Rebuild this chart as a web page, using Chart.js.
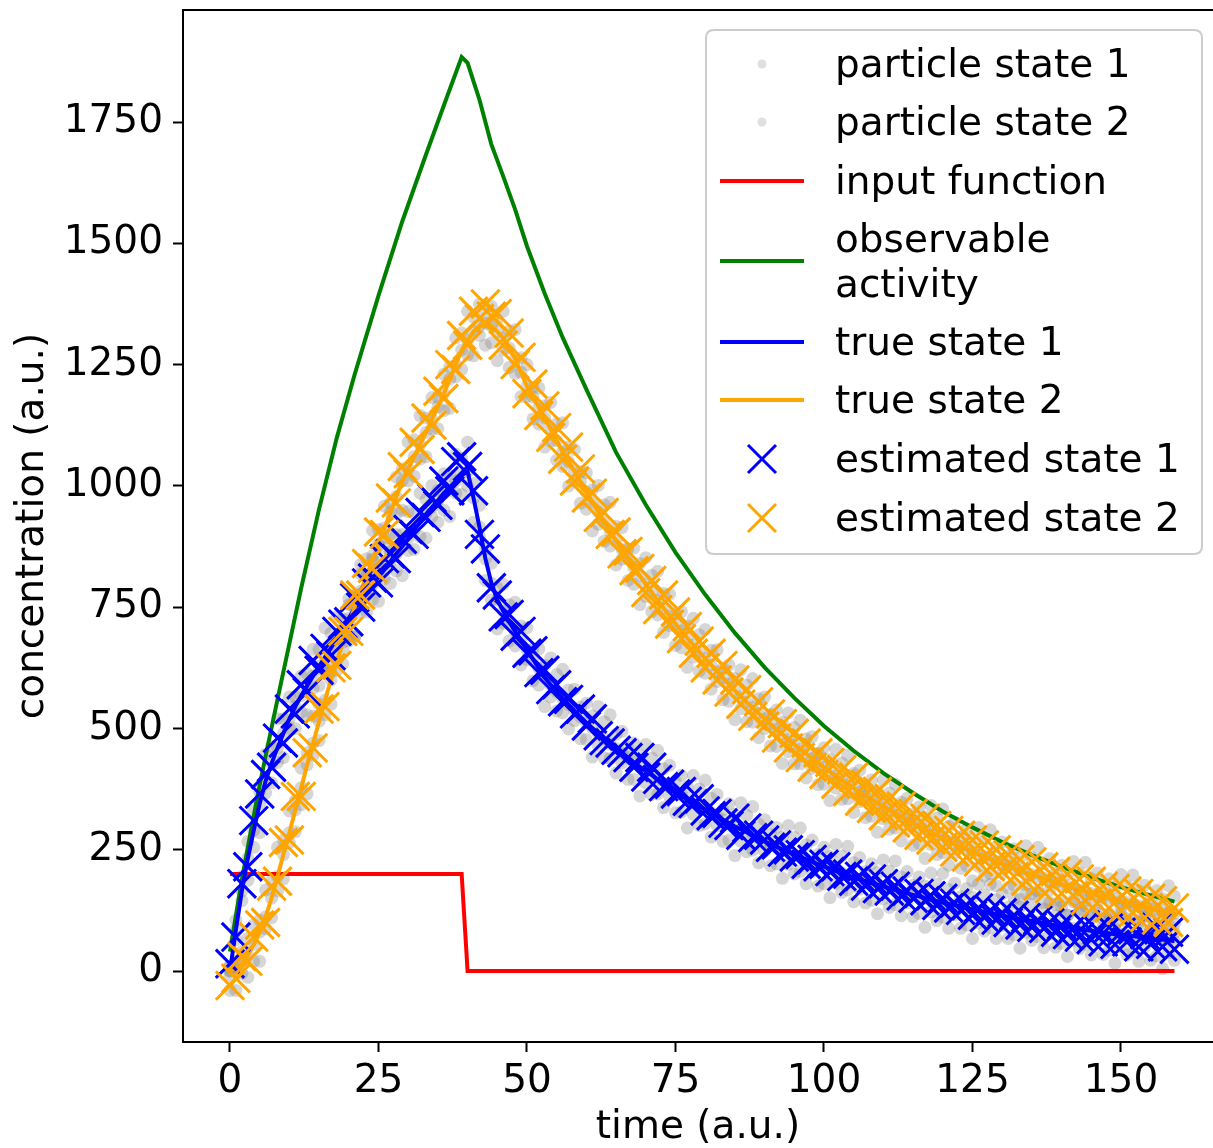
<!DOCTYPE html>
<html>
<head>
<meta charset="utf-8">
<script src="https://cdn.jsdelivr.net/npm/chart.js@4.4.1/dist/chart.umd.min.js"></script>
<style>
  html, body { margin: 0; padding: 0; background: #fff; }
  #wrap { width: 1213px; height: 1148px; }
</style>
</head>
<body>
<div id="wrap"><canvas id="myChart" width="1213" height="1148"></canvas></div>
<script>
// one value per time step (t = 0 .. 159)
const trueState1 = [
  0,85,165,232,290,345,392,428,460,490, 520,545,568,588,608,628,647,666,685,706,
  727,748,764,780,796,812,828,844,860,875, 892,909,925,942,956,970,985,997,1010,1022,
  1030,975,915,850,800,765,742,720,700,681, 662,643,624,605,590,576,562,549,536,524,
  512,501,490,479,468,458,449,440,430,421, 412,404,395,387,379,371,363,355,348,340,
  333,326,319,312,305,298,292,286,279,273, 267,262,256,251,245,240,235,230,225,220,
  215,211,206,202,197,193,189,185,181,178, 174,171,167,164,160,157,154,150,147,144,
  141,138,136,133,130,127,124,122,119,117, 114,112,110,107,105,103,101,98,96,94,
  92,90,88,86,85,83,81,79,78,76, 75,73,72,70,69,67,66,65,63,62
];
const trueState2 = [
  0,5,15,32,55,80,112,150,195,240, 285,332,378,425,470,515,558,600,640,678,
  715,750,783,815,848,880,913,945,978,1010, 1035,1060,1085,1110,1137,1163,1190,1220,1250,1280,
  1300,1318,1330,1335,1330,1318,1305,1284,1262,1234, 1205,1183,1162,1140,1117,1093,1070,1050,1030,1009,
  987,967,946,926,906,887,869,850,832,815, 797,781,764,748,732,716,701,686,672,658,
  644,631,617,604,591,578,566,554,543,531, 520,509,498,488,477,467,457,448,438,429,
  420,411,402,394,385,377,369,361,354,346, 339,332,325,318,311,304,298,292,286,280,
  274,268,262,257,252,246,241,236,231,226, 221,217,212,208,203,199,195,191,187,182,
  178,175,171,167,164,160,157,153,150,147, 144,141,138,135,132,129,126,124,121,119
];
const estState1 = [
  15,70,180,215,310,365,405,420,480,470, 540,530,590,575,640,620,665,650,700,715,
  720,770,750,800,810,800,850,860,850,890, 910,900,945,935,975,960,1010,990,1050,1060,
  1040,990,900,870,790,775,730,735,690,700, 655,660,615,620,580,590,555,560,530,540,
  505,520,485,475,470,455,450,440,420,440, 400,420,395,380,385,365,370,350,345,355,
  330,320,325,305,300,315,280,295,275,280, 270,255,260,245,250,235,240,220,230,215,
  220,205,215,195,200,185,195,175,190,170, 180,165,175,155,165,150,160,145,155,135,
  150,130,140,125,135,115,130,110,125,105, 120,100,115,95,110,90,105,88,100,80,
  95,75,90,70,95,65,85,60,90,55, 80,60,85,50,75,55,90,50,80,45
];
const estState2 = [
  -30,-15,30,20,70,95,100,175,185,265, 270,360,360,450,460,540,545,625,630,700,
  700,775,775,840,830,905,900,975,965,1040, 1025,1090,1075,1140,1125,1195,1180,1250,1240,1310,
  1290,1360,1345,1375,1350,1355,1290,1315,1250,1265, 1190,1210,1145,1165,1100,1120,1055,1080,1010,1035,
  975,985,935,945,900,905,860,865,825,830, 780,805,745,775,715,740,685,710,655,680,
  625,655,600,630,575,600,550,580,525,555, 505,530,480,510,460,490,440,470,420,450,
  405,430,385,415,370,400,350,385,335,370, 320,355,305,340,295,325,280,315,270,300,
  255,290,245,280,235,270,225,260,215,250, 205,240,195,230,185,225,175,215,170,205,
  160,200,155,190,145,185,140,175,130,170, 125,165,120,160,110,150,105,145,100,130
];
// particle clouds (upper and lower edges of the grey bands)
const particle1Hi = [
  10,105,195,267,330,370,447,463,520,520, 565,565,608,613,663,663,707,696,730,726,
  767,773,819,815,856,842,873,864,900,900, 947,944,985,972,1001,990,1025,1022,1065,1057,
  1090,1005,960,870,840,790,797,755,760,711, 707,663,664,630,645,611,622,579,581,544,
  552,526,545,514,528,488,494,460,470,446, 467,439,455,417,424,391,403,380,403,375,
  393,356,364,332,345,323,347,321,339,303, 312,282,296,276,300,275,295,260,270,240,
  255,236,261,237,257,223,234,205,221,203, 229,206,227,194,205,177,194,175,202,179,
  201,168,181,153,170,152,179,157,179,147, 159,132,150,132,160,138,161,128,141,114,
  132,115,143,121,145,113,126,99,118,101, 130,108,132,100,114,87,106,90,118,97
];
const particle1Lo = [
  -10,65,145,187,255,285,367,388,430,440, 500,500,533,528,583,588,617,616,665,661,
  692,688,739,740,766,762,808,799,825,815, 867,869,895,892,936,925,950,937,985,982,
  1000,925,895,805,765,705,717,680,670,631, 642,598,589,545,565,536,532,499,516,479,
  477,441,465,439,438,408,429,395,395,361, 387,364,365,337,359,326,328,295,323,300,
  303,276,299,267,270,238,267,246,249,223, 247,217,221,191,220,200,205,180,205,175,
  180,151,181,162,167,143,169,140,146,118, 149,131,137,114,140,112,119,90,122,104,
  111,88,116,88,95,67,99,82,89,67, 94,67,75,47,80,63,71,48,76,49,
  57,30,63,46,55,33,61,34,43,16, 50,33,42,20,49,22,31,5,38,22
];
const particle2Hi = [
  10,20,40,67,95,105,167,185,255,270, 330,352,418,450,525,550,618,630,685,698,
  755,775,838,850,908,910,958,965,1018,1035, 1090,1095,1145,1140,1182,1183,1230,1245,1305,1315,
  1360,1348,1375,1355,1370,1343,1360,1319,1322,1264, 1250,1203,1202,1165,1172,1128,1130,1080,1075,1029,
  1027,992,1001,961,966,917,914,870,872,840, 852,816,824,778,777,736,741,711,727,693,
  704,661,662,624,631,603,621,589,603,561, 565,529,538,513,532,502,517,478,483,449,
  460,436,457,429,445,407,414,381,394,371, 394,367,385,348,356,324,338,317,341,315,
  334,298,307,277,292,271,296,271,291,256, 266,237,252,233,258,234,255,221,232,202,
  218,200,226,202,224,190,202,173,190,172, 199,176,198,165,177,149,166,149,176,154
];
const particle2Lo = [
  -40,-40,-5,-13,20,20,87,110,165,190, 265,287,343,365,445,475,528,550,620,633,
  680,690,758,775,818,830,893,900,943,950, 1010,1020,1055,1060,1117,1118,1155,1160,1225,1240,
  1270,1268,1310,1290,1295,1258,1280,1244,1232,1184, 1185,1138,1127,1080,1092,1053,1040,1000,1010,964,
  952,907,921,886,876,837,849,805,797,755, 772,741,734,698,712,671,666,626,647,618,
  614,581,597,559,556,518,541,514,513,481, 500,464,463,428,452,427,427,398,418,384,
  385,351,377,354,355,327,349,316,319,286, 314,292,295,268,291,259,263,232,261,240,
  244,218,242,212,217,186,216,196,201,176, 201,172,177,148,178,159,165,141,167,137,
  143,115,146,127,134,110,137,108,115,87, 119,101,108,85,112,84,91,64,96,79
];
// observable activity, read at these times
const obsTimes = [0,1,2,3,4,5,6,8,10,12,15,18,21,25,29,33,36,39,40,41,42,43,44,46,48,50,53,56,60,65,70,75,80,85,90,95,100,105,110,115,120,125,130,135,140,145,150,155,159];
const obsValues = [40,115,188,255,320,383,443,560,675,790,952,1100,1230,1392,1545,1683,1784,1884,1872,1834,1796,1750,1704,1638,1570,1494,1396,1306,1199,1069,961,863,776,697,626,563,505,454,408,367,329,296,266,239,215,193,173,156,143];
// input function breakpoints
const inputTimes = [0,39,40,159];
const inputValues = [200,200,0,0];

const xTicks = [0,25,50,75,100,125,150];
const yTicks = [0,250,500,750,1000,1250,1500,1750];

const legendLabels = ["particle state 1","particle state 2","input function",["observable","activity"],"true state 1","true state 2","estimated state 1","estimated state 2"];

function pts(ys) {
  return ys.map((y, i) => ({x: i, y: y}));
}
function pairs(xs, ys) {
  return xs.map((x, i) => ({x: x, y: ys[i]}));
}

const particleColor = 'rgba(128,128,128,0.32)';
function particleSet(label, ys) {
  return {label: label, data: pts(ys), showLine: false, pointRadius: 6.5, pointHoverRadius: 6.5,
    backgroundColor: particleColor, pointBorderWidth: 0, borderWidth: 0, order: 10};
}
function lineSet(label, data, color, order) {
  return {label: label, data: data, showLine: true, borderColor: color, backgroundColor: color,
    borderWidth: 4, pointRadius: 0, pointHoverRadius: 0, tension: 0, fill: false, order: order};
}
function crossSet(label, ys, color, order) {
  return {label: label, data: pts(ys), showLine: false, pointStyle: 'crossRot', pointRadius: 20,
    pointHoverRadius: 20, borderColor: color, backgroundColor: color, pointBorderWidth: 3,
    borderWidth: 3, order: order};
}

const topSpine = {
  id: 'topSpine',
  afterDatasetsDraw(chart) {
    const ctx = chart.ctx, a = chart.chartArea;
    ctx.save();
    ctx.strokeStyle = '#000';
    ctx.lineWidth = 2;
    ctx.beginPath();
    ctx.moveTo(a.left, a.top);
    ctx.lineTo(a.right, a.top);
    ctx.stroke();
    ctx.restore();
  }
};

// matplotlib-like legend box, upper right
const mplLegend = {
  id: 'mplLegend',
  afterDraw(chart) {
    const ctx = chart.ctx;
    const bx = 706, by = 30, bw = 496, bh = 524, r = 8;
    ctx.save();
    ctx.beginPath();
    ctx.moveTo(bx + r, by);
    ctx.lineTo(bx + bw - r, by);
    ctx.quadraticCurveTo(bx + bw, by, bx + bw, by + r);
    ctx.lineTo(bx + bw, by + bh - r);
    ctx.quadraticCurveTo(bx + bw, by + bh, bx + bw - r, by + bh);
    ctx.lineTo(bx + r, by + bh);
    ctx.quadraticCurveTo(bx, by + bh, bx, by + bh - r);
    ctx.lineTo(bx, by + r);
    ctx.quadraticCurveTo(bx, by, bx + r, by);
    ctx.closePath();
    ctx.fillStyle = 'rgba(255,255,255,0.8)';
    ctx.fill();
    ctx.strokeStyle = '#cccccc';
    ctx.lineWidth = 2;
    ctx.stroke();

    const rows = [64, 122, 181, 261, 342, 400, 459, 518];
    const kinds = ['dot','dot','line','line','line','line','cross','cross'];
    const colors = ['#e0e0e0','#e0e0e0','#ff0000','#008000','#0000ff','#ffa500','#0000ff','#ffa500'];
    const mx = 762;
    ctx.font = '39px "DejaVu Sans"';
    ctx.textBaseline = 'middle';
    ctx.textAlign = 'left';
    rows.forEach((y, i) => {
      ctx.strokeStyle = colors[i];
      ctx.fillStyle = colors[i];
      if (kinds[i] === 'dot') {
        ctx.beginPath();
        ctx.arc(mx, y, 4.5, 0, Math.PI * 2);
        ctx.fill();
      } else if (kinds[i] === 'line') {
        ctx.lineWidth = 4;
        ctx.beginPath();
        ctx.moveTo(720, y);
        ctx.lineTo(804, y);
        ctx.stroke();
      } else {
        ctx.lineWidth = 3;
        ctx.beginPath();
        ctx.moveTo(mx - 14, y - 14); ctx.lineTo(mx + 14, y + 14);
        ctx.moveTo(mx - 14, y + 14); ctx.lineTo(mx + 14, y - 14);
        ctx.stroke();
      }
      ctx.fillStyle = '#000';
      const lab = legendLabels[i];
      if (Array.isArray(lab)) {
        ctx.fillText(lab[0], 835, y - 19);
        ctx.fillText(lab[1], 835, y + 26);
      } else {
        ctx.fillText(lab, 835, y + 3);
      }
    });
    ctx.restore();
  }
};

Chart.defaults.font.family = '"DejaVu Sans"';
Chart.defaults.color = '#000';

const ctx = document.getElementById('myChart');
new Chart(ctx, {
  type: 'scatter',
  data: {
    datasets: [
      crossSet('estimated state 2', estState2, '#ffa500', 1),
      crossSet('estimated state 1', estState1, '#0000ff', 2),
      lineSet('true state 2', pts(trueState2), '#ffa500', 4),
      lineSet('true state 1', pts(trueState1), '#0000ff', 5),
      lineSet('observable activity', pairs(obsTimes, obsValues), '#008000', 6),
      lineSet('input function', pairs(inputTimes, inputValues), '#ff0000', 7),
      particleSet('particle state 2', particle2Hi),
      particleSet('particle state 2', trueState2),
      particleSet('particle state 2', particle2Lo),
      particleSet('particle state 1', particle1Hi),
      particleSet('particle state 1', trueState1),
      particleSet('particle state 1', particle1Lo)
    ]
  },
  options: {
    responsive: false,
    animation: false,
    events: [],
    layout: { autoPadding: false, padding: { top: 10, right: 0, left: 0, bottom: 0 } },
    plugins: { legend: { display: false }, tooltip: { enabled: false } },
    scales: {
      x: {
        type: 'linear',
        min: -7.91,
        max: 165.49,
        afterBuildTicks: (axis) => { axis.ticks = xTicks.map(v => ({value: v})); },
        afterFit: (scale) => { scale.height = 106; scale.paddingLeft = 0; scale.paddingRight = 0; },
        grid: { drawOnChartArea: false, drawTicks: true, tickLength: 10, tickWidth: 2, tickColor: '#000' },
        border: { display: true, color: '#000', width: 2 },
        ticks: { font: { size: 39 }, padding: 6, maxRotation: 0, autoSkip: false,
          callback: (v) => String(v) },
        title: { display: true, text: 'time (a.u.)', font: { size: 39, lineHeight: 1 },
          padding: { top: 0, bottom: 1 } }
      },
      y: {
        type: 'linear',
        min: -146.3,
        max: 1980.9,
        afterBuildTicks: (axis) => { axis.ticks = yTicks.map(v => ({value: v})); },
        afterFit: (scale) => { scale.width = 183; scale.paddingTop = 0; scale.paddingBottom = 0; },
        grid: { drawOnChartArea: false, drawTicks: true, tickLength: 10, tickWidth: 2, tickColor: '#000' },
        border: { display: true, color: '#000', width: 2 },
        ticks: { font: { size: 39 }, padding: 10, autoSkip: false,
          callback: (v) => String(v) },
        title: { display: true, text: 'concentration (a.u.)', font: { size: 39, lineHeight: 1 },
          padding: { top: 13, bottom: 0 } }
      }
    }
  },
  plugins: [topSpine, mplLegend]
});
</script>
</body>
</html>
